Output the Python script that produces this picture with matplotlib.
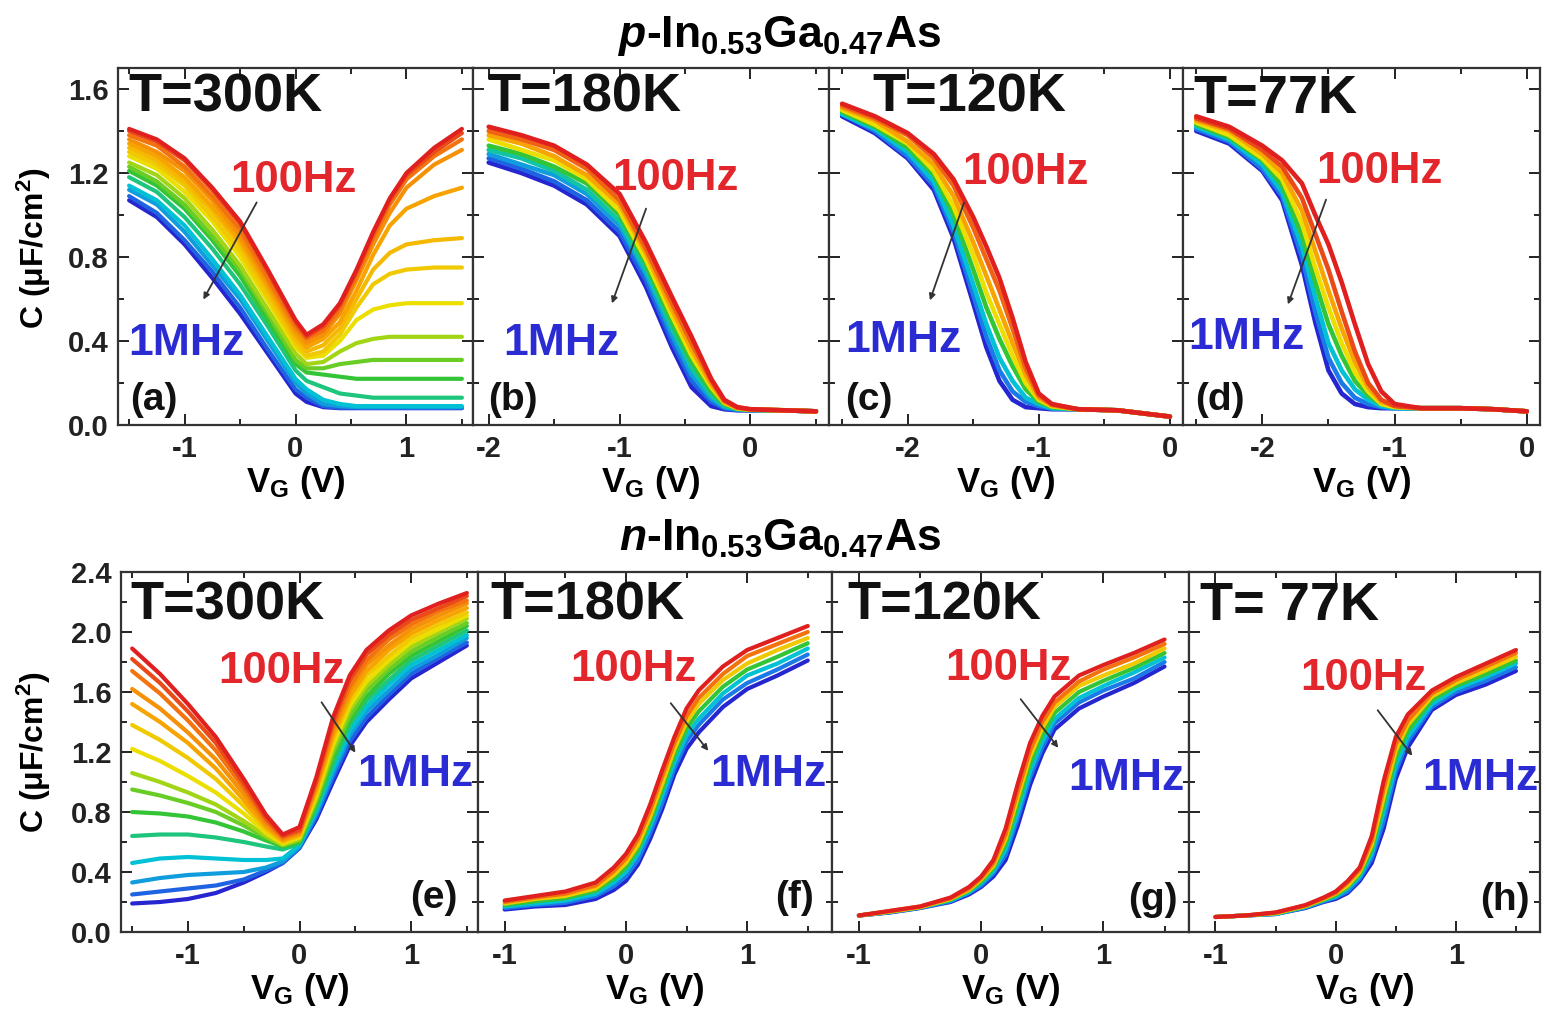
import numpy as np
import matplotlib
matplotlib.use("Agg")
import matplotlib.pyplot as plt
from matplotlib.colors import LinearSegmentedColormap
from matplotlib.ticker import MultipleLocator, FormatStrFormatter

plt.rcParams['font.family'] = 'Liberation Sans'
plt.rcParams['font.weight'] = 'bold'
plt.rcParams['axes.labelweight'] = 'bold'
plt.rcParams['mathtext.fontset'] = 'custom'
plt.rcParams['mathtext.rm'] = 'Liberation Sans:bold'
plt.rcParams['mathtext.it'] = 'Liberation Sans:bold:italic'
plt.rcParams['mathtext.bf'] = 'Liberation Sans:bold'
plt.rcParams['axes.unicode_minus'] = False

# ---- data: C (uF/cm2) vs gate voltage, one list per measurement frequency ----
# (a) p-InGaAs, 300 K
a_v = [-1.5, -1.25, -1.0, -0.75, -0.5, -0.25, 0.0, 0.1, 0.25, 0.4, 0.55, 0.7, 0.85, 1.0, 1.25, 1.5]
a_f = [100, 200, 400, 700, 1e3, 1.5e3, 2e3, 3e3, 5e3, 7e3, 1e4, 2e4, 5e4, 1e5, 3e5, 1e6]
a_c = [
    [1.41, 1.36, 1.27, 1.13, 0.97, 0.74, 0.50, 0.43, 0.48, 0.58, 0.74, 0.92, 1.08, 1.20, 1.32, 1.41],
    [1.40, 1.35, 1.26, 1.12, 0.96, 0.73, 0.49, 0.42, 0.47, 0.57, 0.73, 0.91, 1.07, 1.19, 1.30, 1.39],
    [1.38, 1.33, 1.23, 1.09, 0.93, 0.70, 0.47, 0.41, 0.45, 0.55, 0.71, 0.89, 1.05, 1.17, 1.28, 1.36],
    [1.36, 1.30, 1.21, 1.07, 0.90, 0.68, 0.45, 0.39, 0.43, 0.53, 0.69, 0.86, 1.01, 1.13, 1.24, 1.31],
    [1.34, 1.28, 1.18, 1.04, 0.88, 0.66, 0.43, 0.37, 0.41, 0.49, 0.64, 0.81, 0.95, 1.03, 1.09, 1.13],
    [1.32, 1.26, 1.16, 1.02, 0.86, 0.64, 0.41, 0.35, 0.38, 0.46, 0.60, 0.74, 0.82, 0.86, 0.88, 0.89],
    [1.30, 1.24, 1.14, 0.99, 0.83, 0.61, 0.39, 0.33, 0.35, 0.43, 0.56, 0.67, 0.72, 0.74, 0.75, 0.75],
    [1.28, 1.22, 1.11, 0.97, 0.80, 0.59, 0.37, 0.32, 0.33, 0.40, 0.50, 0.55, 0.57, 0.58, 0.58, 0.58],
    [1.25, 1.19, 1.08, 0.93, 0.76, 0.55, 0.34, 0.29, 0.30, 0.35, 0.39, 0.41, 0.42, 0.42, 0.42, 0.42],
    [1.23, 1.16, 1.05, 0.90, 0.74, 0.53, 0.31, 0.27, 0.27, 0.29, 0.30, 0.31, 0.31, 0.31, 0.31, 0.31],
    [1.21, 1.14, 1.03, 0.88, 0.71, 0.50, 0.29, 0.25, 0.24, 0.23, 0.22, 0.22, 0.22, 0.22, 0.22, 0.22],
    [1.18, 1.11, 0.99, 0.84, 0.67, 0.47, 0.26, 0.21, 0.18, 0.15, 0.14, 0.13, 0.13, 0.13, 0.13, 0.13],
    [1.14, 1.07, 0.95, 0.79, 0.62, 0.42, 0.22, 0.17, 0.12, 0.10, 0.09, 0.09, 0.09, 0.09, 0.09, 0.09],
    [1.12, 1.05, 0.92, 0.76, 0.60, 0.40, 0.20, 0.15, 0.10, 0.09, 0.085, 0.085, 0.085, 0.085, 0.085, 0.085],
    [1.09, 1.01, 0.88, 0.73, 0.56, 0.36, 0.17, 0.13, 0.09, 0.082, 0.082, 0.082, 0.082, 0.082, 0.082, 0.082],
    [1.07, 0.99, 0.86, 0.70, 0.53, 0.34, 0.15, 0.11, 0.085, 0.08, 0.08, 0.08, 0.08, 0.08, 0.08, 0.08],
]

# (b) p-InGaAs, 180 K
b_v = [-2.0, -1.75, -1.5, -1.25, -1.0, -0.8, -0.6, -0.45, -0.3, -0.2, -0.1, 0.0, 0.25, 0.5]
b_f = [100, 300, 1e3, 3e3, 1e4, 3e4, 1e5, 3e5, 1e6]
b_c = [
    [1.42, 1.38, 1.33, 1.24, 1.10, 0.87, 0.61, 0.42, 0.22, 0.12, 0.085, 0.075, 0.07, 0.065],
    [1.40, 1.36, 1.31, 1.22, 1.07, 0.84, 0.58, 0.39, 0.21, 0.115, 0.083, 0.075, 0.07, 0.065],
    [1.38, 1.34, 1.28, 1.19, 1.05, 0.82, 0.55, 0.36, 0.195, 0.11, 0.081, 0.074, 0.07, 0.065],
    [1.36, 1.31, 1.26, 1.17, 1.02, 0.79, 0.52, 0.33, 0.18, 0.105, 0.079, 0.073, 0.07, 0.065],
    [1.33, 1.29, 1.23, 1.15, 1.00, 0.77, 0.49, 0.30, 0.16, 0.10, 0.078, 0.073, 0.07, 0.065],
    [1.31, 1.27, 1.21, 1.12, 0.97, 0.74, 0.46, 0.27, 0.14, 0.09, 0.076, 0.072, 0.07, 0.065],
    [1.29, 1.24, 1.19, 1.10, 0.95, 0.72, 0.43, 0.24, 0.125, 0.085, 0.074, 0.071, 0.07, 0.065],
    [1.27, 1.22, 1.16, 1.07, 0.92, 0.69, 0.40, 0.21, 0.11, 0.08, 0.072, 0.071, 0.07, 0.065],
    [1.25, 1.20, 1.14, 1.05, 0.90, 0.66, 0.37, 0.18, 0.09, 0.075, 0.07, 0.07, 0.07, 0.065],
]

# (c) p-InGaAs, 120 K
c_v = [-2.5, -2.25, -2.0, -1.8, -1.65, -1.5, -1.4, -1.3, -1.2, -1.1, -1.0, -0.9, -0.7, -0.4, -0.2, 0.0]
c_f = [100, 300, 1e3, 3e3, 1e4, 5e4, 2e5, 1e6]
c_c = [
    [1.53, 1.47, 1.39, 1.29, 1.17, 0.99, 0.85, 0.70, 0.51, 0.30, 0.15, 0.10, 0.075, 0.07, 0.055, 0.04],
    [1.52, 1.46, 1.38, 1.27, 1.14, 0.94, 0.79, 0.64, 0.46, 0.27, 0.14, 0.097, 0.075, 0.07, 0.055, 0.04],
    [1.51, 1.45, 1.35, 1.24, 1.09, 0.87, 0.71, 0.55, 0.39, 0.24, 0.13, 0.093, 0.075, 0.07, 0.055, 0.04],
    [1.50, 1.43, 1.34, 1.21, 1.04, 0.81, 0.63, 0.48, 0.33, 0.20, 0.12, 0.089, 0.075, 0.07, 0.055, 0.04],
    [1.49, 1.42, 1.32, 1.19, 1.00, 0.74, 0.56, 0.41, 0.28, 0.17, 0.11, 0.085, 0.075, 0.07, 0.055, 0.04],
    [1.48, 1.41, 1.30, 1.16, 0.95, 0.67, 0.48, 0.32, 0.21, 0.13, 0.10, 0.08, 0.075, 0.07, 0.055, 0.04],
    [1.48, 1.40, 1.28, 1.14, 0.92, 0.62, 0.42, 0.26, 0.16, 0.11, 0.09, 0.078, 0.075, 0.07, 0.055, 0.04],
    [1.47, 1.39, 1.27, 1.12, 0.89, 0.58, 0.37, 0.21, 0.12, 0.085, 0.08, 0.075, 0.075, 0.07, 0.055, 0.04],
]

# (d) p-InGaAs, 77 K
d_v = [-2.5, -2.25, -2.0, -1.85, -1.7, -1.6, -1.5, -1.4, -1.3, -1.2, -1.1, -1.0, -0.8, -0.5, -0.25, 0.0]
d_f = [100, 200, 1e3, 3e3, 1e4, 5e4, 2e5, 1e6]
d_c = [
    [1.47, 1.42, 1.33, 1.26, 1.15, 1.00, 0.86, 0.68, 0.48, 0.29, 0.16, 0.10, 0.08, 0.08, 0.075, 0.065],
    [1.46, 1.41, 1.31, 1.23, 1.08, 0.91, 0.74, 0.54, 0.35, 0.20, 0.12, 0.09, 0.08, 0.08, 0.075, 0.065],
    [1.45, 1.40, 1.29, 1.20, 1.02, 0.83, 0.64, 0.46, 0.30, 0.18, 0.11, 0.09, 0.08, 0.08, 0.075, 0.065],
    [1.44, 1.38, 1.27, 1.17, 0.96, 0.75, 0.56, 0.39, 0.25, 0.16, 0.10, 0.085, 0.08, 0.08, 0.075, 0.065],
    [1.43, 1.37, 1.26, 1.14, 0.90, 0.68, 0.48, 0.33, 0.21, 0.14, 0.10, 0.085, 0.08, 0.08, 0.075, 0.065],
    [1.42, 1.36, 1.24, 1.11, 0.85, 0.61, 0.39, 0.26, 0.17, 0.12, 0.09, 0.08, 0.08, 0.08, 0.075, 0.065],
    [1.41, 1.35, 1.22, 1.09, 0.80, 0.54, 0.32, 0.20, 0.13, 0.10, 0.085, 0.08, 0.08, 0.08, 0.075, 0.065],
    [1.40, 1.34, 1.21, 1.07, 0.76, 0.49, 0.26, 0.15, 0.10, 0.085, 0.08, 0.08, 0.08, 0.08, 0.075, 0.065],
]

# (e) n-InGaAs, 300 K
e_v = [-1.5, -1.25, -1.0, -0.75, -0.5, -0.3, -0.15, 0.0, 0.15, 0.3, 0.45, 0.6, 0.8, 1.0, 1.25, 1.5]
e_f = [100, 200, 400, 700, 1e3, 2e3, 3e3, 5e3, 7e3, 1e4, 2e4, 5e4, 1e5, 3e5, 1e6]
e_c = [
    [1.89, 1.72, 1.52, 1.30, 1.02, 0.78, 0.65, 0.70, 1.03, 1.43, 1.71, 1.88, 2.01, 2.11, 2.19, 2.26],
    [1.82, 1.66, 1.47, 1.26, 0.99, 0.76, 0.64, 0.68, 1.01, 1.40, 1.68, 1.85, 1.98, 2.08, 2.16, 2.24],
    [1.74, 1.59, 1.41, 1.21, 0.96, 0.74, 0.63, 0.67, 0.99, 1.37, 1.64, 1.81, 1.95, 2.05, 2.14, 2.21],
    [1.62, 1.49, 1.33, 1.15, 0.92, 0.72, 0.62, 0.66, 0.97, 1.34, 1.61, 1.78, 1.91, 2.02, 2.11, 2.19],
    [1.52, 1.40, 1.26, 1.09, 0.88, 0.70, 0.61, 0.65, 0.95, 1.31, 1.57, 1.74, 1.88, 1.99, 2.08, 2.16],
    [1.38, 1.28, 1.16, 1.02, 0.84, 0.68, 0.60, 0.64, 0.93, 1.28, 1.54, 1.71, 1.84, 1.96, 2.05, 2.13],
    [1.22, 1.14, 1.04, 0.93, 0.79, 0.66, 0.59, 0.63, 0.91, 1.25, 1.51, 1.67, 1.81, 1.93, 2.02, 2.11],
    [1.06, 1.00, 0.93, 0.85, 0.74, 0.64, 0.58, 0.62, 0.89, 1.22, 1.48, 1.64, 1.78, 1.90, 2.00, 2.09],
    [0.95, 0.91, 0.86, 0.80, 0.71, 0.63, 0.58, 0.61, 0.87, 1.19, 1.44, 1.61, 1.75, 1.87, 1.97, 2.06],
    [0.80, 0.79, 0.77, 0.73, 0.67, 0.61, 0.57, 0.60, 0.85, 1.16, 1.41, 1.57, 1.72, 1.84, 1.94, 2.04],
    [0.64, 0.65, 0.65, 0.63, 0.60, 0.57, 0.55, 0.59, 0.83, 1.12, 1.38, 1.54, 1.68, 1.81, 1.91, 2.01],
    [0.46, 0.49, 0.50, 0.49, 0.48, 0.48, 0.49, 0.58, 0.81, 1.09, 1.34, 1.50, 1.65, 1.78, 1.88, 1.98],
    [0.33, 0.36, 0.38, 0.39, 0.40, 0.43, 0.47, 0.57, 0.79, 1.06, 1.31, 1.47, 1.61, 1.75, 1.85, 1.96],
    [0.25, 0.27, 0.29, 0.31, 0.35, 0.41, 0.46, 0.56, 0.77, 1.03, 1.27, 1.43, 1.58, 1.72, 1.83, 1.93],
    [0.19, 0.20, 0.22, 0.26, 0.33, 0.40, 0.46, 0.56, 0.75, 1.00, 1.24, 1.40, 1.55, 1.69, 1.80, 1.91],
]

# (f)-(h) n-InGaAs, 180 K / 120 K / 77 K (same bias points)
n_v = [-1.0, -0.75, -0.5, -0.25, -0.1, 0.0, 0.1, 0.2, 0.3, 0.4, 0.5, 0.6, 0.8, 1.0, 1.25, 1.5]
n_f = [100, 400, 2e3, 1e4, 5e4, 2e5, 1e6]
f_c = [
    [0.21, 0.24, 0.27, 0.33, 0.43, 0.52, 0.65, 0.85, 1.08, 1.30, 1.49, 1.61, 1.77, 1.88, 1.96, 2.04],
    [0.20, 0.23, 0.255, 0.31, 0.405, 0.49, 0.62, 0.81, 1.04, 1.26, 1.44, 1.56, 1.72, 1.84, 1.92, 2.00],
    [0.19, 0.22, 0.24, 0.29, 0.38, 0.46, 0.58, 0.77, 0.99, 1.22, 1.40, 1.52, 1.68, 1.79, 1.88, 1.96],
    [0.18, 0.205, 0.225, 0.275, 0.355, 0.43, 0.55, 0.735, 0.95, 1.175, 1.355, 1.47, 1.635, 1.75, 1.835, 1.925],
    [0.17, 0.19, 0.21, 0.255, 0.33, 0.40, 0.52, 0.70, 0.91, 1.13, 1.31, 1.42, 1.59, 1.71, 1.79, 1.89],
    [0.16, 0.18, 0.195, 0.24, 0.305, 0.37, 0.48, 0.66, 0.86, 1.09, 1.27, 1.38, 1.55, 1.66, 1.75, 1.85],
    [0.15, 0.17, 0.18, 0.22, 0.28, 0.34, 0.45, 0.62, 0.82, 1.05, 1.22, 1.33, 1.50, 1.62, 1.71, 1.81],
]
g_c = [
    [0.11, 0.14, 0.17, 0.23, 0.30, 0.37, 0.48, 0.69, 0.99, 1.26, 1.44, 1.57, 1.71, 1.78, 1.86, 1.95],
    [0.11, 0.14, 0.17, 0.225, 0.29, 0.36, 0.46, 0.65, 0.94, 1.21, 1.40, 1.53, 1.67, 1.75, 1.83, 1.92],
    [0.11, 0.135, 0.165, 0.22, 0.28, 0.35, 0.44, 0.62, 0.90, 1.17, 1.36, 1.50, 1.64, 1.71, 1.79, 1.89],
    [0.11, 0.135, 0.165, 0.215, 0.275, 0.335, 0.425, 0.585, 0.85, 1.12, 1.315, 1.46, 1.60, 1.675, 1.76, 1.86],
    [0.11, 0.135, 0.165, 0.21, 0.265, 0.325, 0.405, 0.55, 0.80, 1.07, 1.27, 1.42, 1.56, 1.64, 1.73, 1.83],
    [0.11, 0.13, 0.16, 0.205, 0.26, 0.31, 0.39, 0.515, 0.76, 1.03, 1.23, 1.39, 1.53, 1.61, 1.69, 1.80],
    [0.11, 0.13, 0.16, 0.20, 0.25, 0.30, 0.37, 0.48, 0.71, 0.98, 1.19, 1.35, 1.49, 1.57, 1.66, 1.77],
]
h_c = [
    [0.10, 0.11, 0.13, 0.18, 0.23, 0.27, 0.34, 0.43, 0.64, 1.01, 1.30, 1.45, 1.61, 1.70, 1.79, 1.88],
    [0.10, 0.11, 0.13, 0.177, 0.225, 0.26, 0.33, 0.415, 0.61, 0.96, 1.25, 1.41, 1.59, 1.68, 1.77, 1.86],
    [0.10, 0.11, 0.125, 0.173, 0.22, 0.255, 0.31, 0.40, 0.58, 0.90, 1.21, 1.38, 1.57, 1.66, 1.745, 1.835],
    [0.10, 0.11, 0.125, 0.17, 0.215, 0.245, 0.30, 0.385, 0.55, 0.85, 1.16, 1.34, 1.545, 1.64, 1.72, 1.81],
    [0.10, 0.11, 0.12, 0.167, 0.21, 0.235, 0.29, 0.37, 0.52, 0.80, 1.11, 1.30, 1.52, 1.62, 1.70, 1.79],
    [0.10, 0.11, 0.12, 0.163, 0.205, 0.23, 0.27, 0.355, 0.49, 0.74, 1.07, 1.27, 1.50, 1.60, 1.675, 1.765],
    [0.10, 0.11, 0.12, 0.16, 0.20, 0.22, 0.26, 0.34, 0.46, 0.69, 1.02, 1.23, 1.48, 1.58, 1.65, 1.74],
]

temps_p = ["T=300K", "T=180K", "T=120K", "T=77K"]
temps_n = ["T=300K", "T=180K", "T=120K", "T= 77K"]
letters = ["(a)", "(b)", "(c)", "(d)", "(e)", "(f)", "(g)", "(h)"]

# ---- figure ----
W, H = 1546, 1010
fig = plt.figure(figsize=(W / 100, H / 100), dpi=100)

rainbow = LinearSegmentedColormap.from_list(
    "cv", [(0.0, "#e01f1f"), (0.13, "#f26a12"), (0.26, "#f7a800"), (0.37, "#ece000"),
           (0.5, "#35c535"), (0.67, "#00c4d4"), (0.83, "#1c78e8"), (1.0, "#2626d0")])


def fcolor(f):
    return rainbow((np.log10(f) - 2) / 4)


def fx(x):
    return x / W


def fy(y):
    return 1 - y / H


def make_ax(x0, x1, y0, y1):
    return fig.add_axes([fx(x0), fy(y1), (x1 - x0) / W, (y1 - y0) / H])


top_x = [118, 473, 829, 1183, 1540]
bot_x = [121, 478, 832, 1189, 1540]
top_y = (68, 425)
bot_y = (572, 932)

panels = [
    (a_v, a_f, a_c, (-1.6, 1.6), 3.0),
    (b_v, b_f, b_c, (-2.12, 0.6), 3.3),
    (c_v, c_f, c_c, (-2.6, 0.1), 3.3),
    (d_v, d_f, d_c, (-2.6, 0.1), 3.3),
    (e_v, e_f, e_c, (-1.6, 1.6), 3.0),
    (n_v, n_f, f_c, (-1.22, 1.7), 3.0),
    (n_v, n_f, g_c, (-1.22, 1.7), 3.0),
    (n_v, n_f, h_c, (-1.22, 1.7), 3.0),
]

for i, (v, freqs, curves, xlim, lw) in enumerate(panels):
    row, col = divmod(i, 4)
    xs = top_x if row == 0 else bot_x
    ys = top_y if row == 0 else bot_y
    ax = make_ax(xs[col], xs[col + 1], ys[0], ys[1])
    # high frequency first so the low-frequency (red) curves sit on top
    for f, c in sorted(zip(freqs, curves), key=lambda p: -p[0]):
        ax.plot(v, c, color=fcolor(f), lw=lw, solid_capstyle="round", solid_joinstyle="round")
    ax.set_xlim(*xlim)
    ax.set_ylim(0, 1.7 if row == 0 else 2.4)
    ax.xaxis.set_major_locator(MultipleLocator(1))
    ax.xaxis.set_minor_locator(MultipleLocator(0.5))
    ax.yaxis.set_major_locator(MultipleLocator(0.4))
    ax.yaxis.set_minor_locator(MultipleLocator(0.2))
    ax.xaxis.set_major_formatter(FormatStrFormatter("%d"))
    ax.yaxis.set_major_formatter(FormatStrFormatter("%.1f"))
    ax.tick_params(which="both", direction="in", top=True, right=True, width=1.4,
                   labelsize=21, colors="#222222")
    ax.tick_params(which="major", length=8, pad=7)
    ax.tick_params(which="minor", length=4)
    if col > 0:
        ax.tick_params(labelleft=False)
    for s in ax.spines.values():
        s.set_linewidth(1.6)
        s.set_color("#333333")
    ax.set_xlabel(r"V$_\mathrm{G}$ (V)", fontsize=25, fontweight="bold", labelpad=1)

# y labels
for yc in (248, 752):
    fig.text(fx(34), fy(yc), "C (μF/cm$^{2}$)", rotation=90, fontsize=23,
             ha="center", va="center")

# titles
fig.text(fx(780), fy(47), r"$\mathit{p}$-In$_{0.53}$Ga$_{0.47}$As", fontsize=32,
         ha="center", va="baseline")
fig.text(fx(780), fy(551), r"$\mathit{n}$-In$_{0.53}$Ga$_{0.47}$As", fontsize=32,
         ha="center", va="baseline")

# panel annotations (pixel positions of the text baselines)
t_pos = [(128, 112), (487, 112), (872, 112), (1193, 113),
         (130, 620), (490, 620), (847, 620), (1200, 620)]
hz_pos = [(230, 192), (612, 190), (962, 184), (1316, 183),
          (218, 683), (570, 681), (945, 680), (1300, 690)]
mhz_pos = [(128, 355), (503, 355), (845, 352), (1188, 349),
           (357, 786), (710, 786), (1068, 790), (1422, 790)]
let_pos = [(130, 410), (488, 410), (845, 410), (1195, 410),
           (410, 908), (775, 908), (1128, 910), (1480, 910)]
arrows = [((258, 200), (202, 302)), ((647, 206), (611, 306)),
          ((965, 200), (929, 303)), ((1327, 197), (1287, 307)),
          ((320, 700), (357, 755)), ((669, 701), (710, 753)),
          ((1019, 697), (1060, 750)), ((1376, 708), (1414, 758))]

temps = temps_p + temps_n
for i in range(8):
    fig.text(fx(t_pos[i][0]), fy(t_pos[i][1]), temps[i], fontsize=39, color="#111111",
             ha="left", va="baseline")
    fig.text(fx(hz_pos[i][0]), fy(hz_pos[i][1]), "100Hz", fontsize=31.5, color="#e3262b",
             ha="left", va="baseline")
    fig.text(fx(mhz_pos[i][0]), fy(mhz_pos[i][1]), "1MHz", fontsize=32, color="#2b2bd4",
             ha="left", va="baseline")
    fig.text(fx(let_pos[i][0]), fy(let_pos[i][1]), letters[i], fontsize=28, color="#111111",
             ha="left", va="baseline")
    (x0, y0), (x1, y1) = arrows[i]
    fig.add_artist(matplotlib.patches.FancyArrowPatch(
        (fx(x0), fy(y0)), (fx(x1), fy(y1)), transform=fig.transFigure,
        arrowstyle="-|>", mutation_scale=9, lw=1.3, color="#333333"))

fig.savefig("out.png", dpi=100)
